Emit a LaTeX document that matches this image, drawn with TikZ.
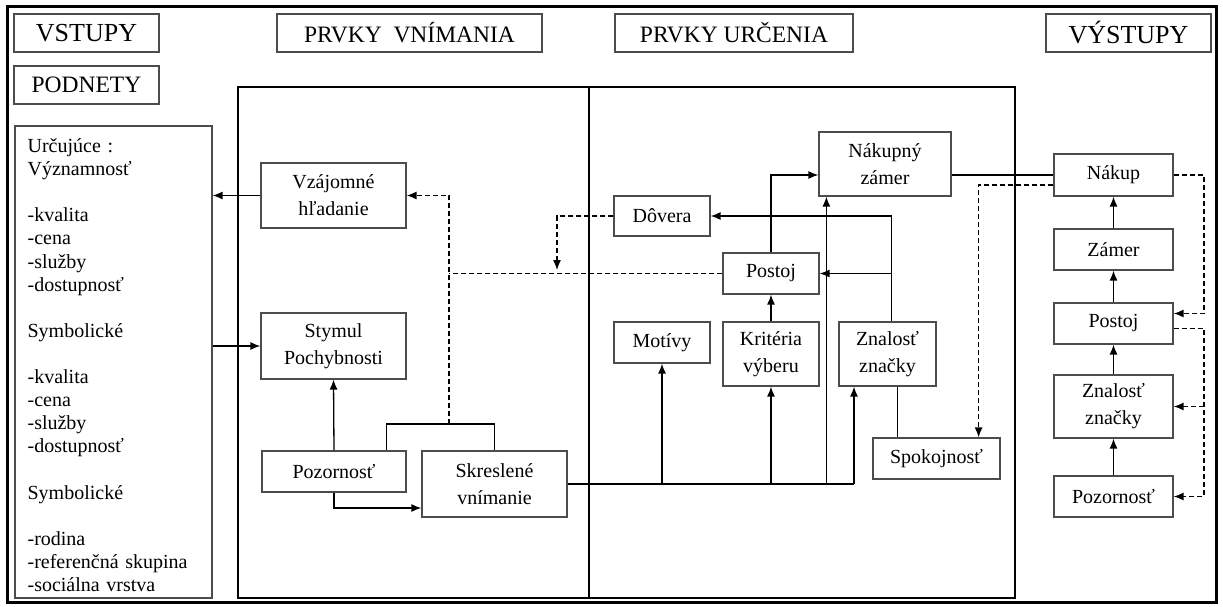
\documentclass[tikz,border=0pt]{standalone}
\usepackage{fontspec}
\setmainfont{Liberation Serif}
\usetikzlibrary{arrows.meta}

\begin{document}
\begin{tikzpicture}[
      x=1pt, y=-1pt,
      >=Latex,
      box/.style={draw=black!70, line width=1.2pt, align=center, inner sep=2pt,
        font=\fontsize{20}{27}\selectfont},
      head/.style={box, minimum height=38pt, font=\fontsize{23.5}{28}\selectfont},
      bighead/.style={head, font=\fontsize{26}{30}\selectfont},
      list/.style={anchor=north west, inner sep=0pt, text width=180pt, align=left,
        font=\fontsize{20}{23.1}\selectfont},
      link/.style={line width=1.3pt},
      arrow/.style={link, -{Latex[length=10pt,width=8pt]}},
      dashlink/.style={link, dash pattern=on 5pt off 3pt},
      dasharrow/.style={dashlink, -{Latex[length=10pt,width=8pt]}}
    ]

    \path[use as bounding box] (0,0) rectangle (1223,607);

    % Frame and panels
    \draw[line width=3pt] (7,7) rectangle (1216,602);
    \draw[link] (238,87) rectangle (1015,598);
    \draw[link] (589,87) -- (589,598);

    % Column titles
    \node[bighead, minimum width=145pt] (vstupy) at (86.5,33) {VSTUPY};
    \node[head, minimum width=145pt] (podnety) at (86.5,85) {PODNETY};
    \node[head, minimum width=265pt] (vnimanie) at (409.5,33) {PRVKY~~VNÍMANIA};
    \node[head, minimum width=238pt] (urcenie) at (734,33) {PRVKY URČENIA};
    \node[bighead, minimum width=165pt] (vystupy) at (1128.5,33) {VÝSTUPY};

    % Inputs: list of stimuli
    \node[box, minimum width=197pt, minimum height=472pt] (factors) at (113.5,362) {};
    \node[list] (factorlist) at ([xshift=13pt,yshift=-13pt]factors.north west) {%
      Určujúce :\\
      Významnosť\\[23.1pt]
      -kvalita\\
      -cena\\
      -služby\\
      -dostupnosť\\[23.1pt]
      Symbolické\\[23.1pt]
      -kvalita\\
      -cena\\
      -služby\\
      -dostupnosť\\[23.1pt]
      Symbolické\\[23.1pt]
      -rodina\\
      -referenčná skupina\\
      -sociálna vrstva};

    % Perception elements
    \node[box, minimum width=145pt, minimum height=65pt] (vzajomne) at (333.5,195.5) {Vzájomné\\hľadanie};
    \node[box, minimum width=145pt, minimum height=66pt] (stymul) at (333.5,346) {Stymul\\Pochybnosti};
    \node[box, minimum width=144pt, minimum height=41pt] (pozornost) at (334,471.5) {Pozornosť};
    \node[box, minimum width=145pt, minimum height=66pt] (skreslene) at (494.5,484) {Skreslené\\vnímanie};

    % Determination elements
    \node[box, minimum width=96pt, minimum height=40pt] (dovera) at (662,216) {Dôvera};
    \node[box, minimum width=96pt, minimum height=41pt] (postoj) at (771,273.5) {Postoj};
    \node[box, minimum width=132pt, minimum height=64pt] (nakupny) at (885,164) {Nákupný\\zámer};
    \node[box, minimum width=96pt, minimum height=41pt] (motivy) at (662,342.5) {Motívy};
    \node[box, minimum width=96pt, minimum height=64pt] (kriteria) at (771,354) {Kritéria\\výberu};
    \node[box, minimum width=97pt, minimum height=64pt] (znalost) at (887.5,354) {Znalosť\\značky};
    \node[box, minimum width=127pt, minimum height=41pt] (spokojnost) at (936.5,458.5) {Spokojnosť};

    % Outputs
    \node[box, minimum width=119pt, minimum height=42pt] (nakup) at (1113.5,175) {Nákup};
    \node[box, minimum width=119pt, minimum height=41pt] (zamer) at (1113.5,249.5) {Zámer};
    \node[box, minimum width=119pt, minimum height=41pt] (postojout) at (1113.5,323.5) {Postoj};
    \node[box, minimum width=119pt, minimum height=63pt] (znalostout) at (1113.5,406.5) {Znalosť\\značky};
    \node[box, minimum width=119pt, minimum height=41pt] (pozornostout) at (1113.5,496.5) {Pozornosť};

    \coordinate (fork) at (449,424);
    \coordinate (bus) at (854,484);
    \coordinate (dvdrop) at (557,270);
    \coordinate (rside) at (1204,0);

    % Perception connectors
    \draw[arrow] (vzajomne.west) -- (vzajomne.west -| factors.east);
    \draw[arrow] (factors.east |- stymul.west) -- (stymul.west);
    \draw[arrow] (pozornost.north) -- (stymul.south);
    \draw[arrow] (pozornost.south) |- ([yshift=-24pt]skreslene.west);
    \draw[link] ([xshift=-20pt]pozornost.north east) |- (fork -| skreslene.north) -- (skreslene.north);
    \draw[dasharrow] (fork) |- (vzajomne.east);
    \draw[dashlink] (postoj.west) -- (postoj.west -| fork);
    \draw[dasharrow] (dovera.west) -| (dvdrop);

    % Determination connectors
    \draw[link] (skreslene.east) -- (bus);
    \draw[arrow] (motivy.south |- bus) -- (motivy.south);
    \draw[arrow] (kriteria.south |- bus) -- (kriteria.south);
    \draw[arrow] ([xshift=8pt]nakupny.south west |- bus) -- ([xshift=8pt]nakupny.south west);
    \draw[arrow] (bus) -- (bus |- znalost.south);
    \draw[arrow] (kriteria.north) -- (postoj.south);
    \draw[arrow] (postoj.north) |- ([yshift=-11pt]nakupny.west);
    \draw[arrow] ([xshift=4pt]znalost.north) |- (dovera.east);
    \draw[arrow] ([xshift=4pt]znalost.north |- postoj.east) -- (postoj.east);
    \draw[link] ([xshift=10pt]znalost.south) -- ([xshift=10pt]znalost.south |- spokojnost.north);
    \draw[link] (nakupny.east |- nakup.west) -- (nakup.west);
    \draw[dasharrow] ([yshift=-10pt]nakup.west) -| ([xshift=-22pt]spokojnost.north east);

    % Output connectors
    \draw[arrow] (pozornostout.north) -- (znalostout.south);
    \draw[arrow] (znalostout.north) -- (postojout.south);
    \draw[arrow] (postojout.north) -- (zamer.south);
    \draw[arrow] (zamer.north) -- (nakup.south);
    \draw[dasharrow] (nakup.east) -- (nakup.east -| rside) |- ([yshift=10pt]postojout.east);
    \draw[dasharrow] ([yshift=-5pt]postojout.east) -- ([yshift=-5pt]postojout.east -| rside)
      |- (pozornostout.east);
    \draw[dasharrow] (znalostout.east -| rside) -- (znalostout.east);

  \end{tikzpicture}
\end{document}
